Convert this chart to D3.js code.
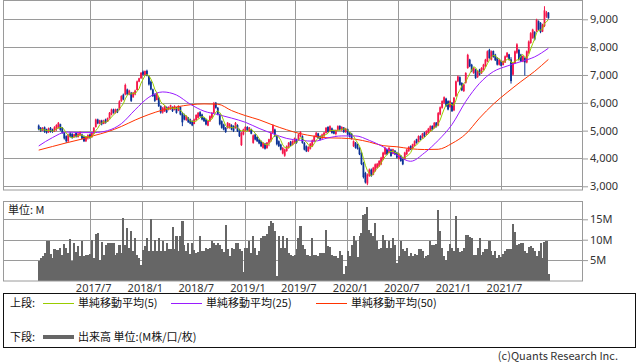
<!DOCTYPE html>
<html><head><meta charset="utf-8">
<script src="https://cdn.jsdelivr.net/npm/d3@7"></script>
<style>
body{margin:0;background:#fff}
svg{display:block}
text{font-family:"Noto Sans CJK JP","Noto Sans",sans-serif}
</style>
</head><body>
<svg id="c" width="638" height="362"></svg>
<script>
// ---- data (weekly, first week ending 2016-12-30) ----
const opens = [
5180,5100,5000,5120,5050,4940,5100,5040,4970,5050,
5100,5230,5100,4930,4800,4620,4900,4880,4760,4920,
4770,4830,4860,4790,4620,4720,4860,4760,4900,5130,
5400,5250,5360,5240,5400,5320,5450,5580,5760,5640,
5770,5760,6060,6290,6300,6480,6300,6360,6200,6300,
6460,6760,6880,7120,7000,7150,6950,6760,6480,6300,
6100,6180,5880,5650,5700,5850,5740,5770,5850,5740,
5830,5720,5850,5620,5560,5380,5460,5400,5340,5240,
5380,5460,5660,5580,5460,5400,5180,5340,5460,5640,
6000,5820,5580,5340,5220,5100,5090,5100,5200,5160,
5100,5200,5030,4480,4860,4980,5130,4980,5040,4560,
4860,4770,4680,4620,4380,4530,4370,4570,4650,4920,
5040,4800,4620,4500,4180,4100,4270,4380,4600,4480,
4560,4690,4680,4800,4800,4560,4440,4260,4350,4440,
4620,4780,4900,4800,4720,4800,4920,5130,4970,5080,
5010,4880,5010,5170,5020,5110,4950,5050,4920,4890,
4440,4570,4500,4380,4200,3830,3480,3100,3380,3600,
3420,3550,3660,3720,3790,3960,4150,4330,4200,4320,
4170,4280,4210,3990,4100,4030,3970,4150,4260,4450,
4370,4460,4690,4610,4810,4730,4930,4850,4910,4980,
5170,5090,5290,5190,5580,5820,6000,6150,6060,5850,
6000,5730,6240,6770,6920,6710,6420,6720,7250,7550,
7370,7070,7190,6920,7190,7060,7190,7310,7490,7900,
7550,7860,7730,7610,7370,7500,7360,7450,7640,7740,
7560,7010,7430,7800,7900,7730,7480,7610,7450,7800,
8150,8330,8550,8570,8930,8870,8560,8760,9100,9240];
const highs = [
5220,5130,5130,5150,5070,5110,5130,5070,5160,5230,
5310,5250,5130,4950,4830,4890,4950,4920,4890,4950,
4920,4980,4890,4830,4800,4870,4890,4950,5130,5430,
5430,5390,5390,5390,5430,5470,5670,5790,5790,5790,
5790,6090,6270,6330,6690,6510,6470,6390,6390,6470,
6800,6900,7100,7160,7160,7190,6980,6800,6510,6330,
6390,6210,5910,5850,5910,5870,5870,5930,5870,5910,
5850,5910,5870,5670,5610,5550,5490,5430,5370,5430,
5590,5670,5700,5610,5490,5430,5370,5550,5670,6030,
6030,5850,5610,5370,5250,5130,5310,5270,5230,5190,
5310,5230,5070,4950,5070,5160,5160,5130,5070,4860,
4890,4800,4710,4650,4590,4560,4590,4710,4950,5230,
5070,4830,4650,4530,4410,4350,4470,4590,4630,4650,
4750,4710,4890,4980,4830,4590,4470,4440,4560,4680,
4830,4950,4920,4830,4890,4950,5130,5160,5190,5110,
5040,5040,5190,5190,5160,5130,5100,5070,4950,4920,
4650,4590,4530,4410,4240,3880,3520,3460,3640,3640,
3700,3820,3840,3940,4060,4240,4410,4350,4410,4350,
4350,4300,4240,4200,4120,4060,4240,4350,4440,4470,
4530,4650,4710,4830,4830,4920,4950,5010,5100,5190,
5190,5310,5310,5670,5870,6090,6230,6180,6090,6090,
6030,6210,6800,6980,6950,6740,6690,7100,7760,7580,
7400,7280,7220,7160,7220,7280,7400,7580,7880,7940,
7880,7880,7760,7640,7580,7520,7520,7700,7820,7760,
7640,7460,7880,8140,7940,7760,7700,7640,7880,8240,
8540,8660,8570,9020,8960,8900,8840,9470,9300,9260];
const lows = [
5010,4950,4990,4920,4890,4920,4930,4920,4950,4990,
5070,4990,4890,4680,4560,4590,4750,4710,4750,4750,
4750,4800,4680,4590,4590,4680,4710,4750,4870,5110,
5230,5230,5190,5230,5250,5310,5430,5550,5610,5610,
5630,5730,6030,6090,6270,6270,6270,6030,6180,6270,
6450,6740,6860,6980,6980,6950,6620,6450,6210,6030,
6090,5850,5610,5610,5670,5630,5730,5750,5670,5730,
5610,5700,5550,5160,5370,5350,5280,5230,5160,5230,
5350,5430,5490,5370,5310,5190,5160,5310,5430,5610,
5790,5550,5190,5070,5010,4920,5070,5070,5010,4950,
5070,4950,4770,4450,4830,4950,4990,4950,4870,4530,
4650,4590,4510,4410,4350,4320,4350,4440,4590,4890,
4770,4470,4410,4290,4150,4060,4240,4350,4440,4470,
4530,4530,4650,4770,4530,4290,4230,4230,4320,4410,
4590,4750,4710,4650,4710,4770,4890,4920,4950,4890,
4870,4830,4990,5010,4980,4920,4920,4830,4750,4680,
4410,4350,4320,4120,3760,3280,3100,3040,3340,3340,
3400,3520,3640,3700,3760,3940,4120,4120,4180,4060,
4150,4120,4000,3960,3880,3760,3940,4120,4240,4300,
4350,4440,4530,4590,4650,4710,4770,4830,4890,4950,
5010,5070,5110,5160,5550,5790,5970,5850,5730,5820,
5670,5700,6210,6740,6620,6420,6390,6690,7220,7280,
7100,7040,6860,6900,6980,7040,7160,7280,7460,7580,
7520,7620,7500,7340,7340,7310,7340,7430,7620,7520,
6690,6980,7400,7760,7520,7460,7460,6980,7420,7760,
8120,8300,8240,8540,8600,8500,8540,8720,9050,9020];
const closes = [
5050,4990,5100,4960,4920,5080,4960,4950,5120,5200,
5280,5030,4920,4720,4620,4850,4780,4740,4870,4780,
4890,4950,4710,4620,4760,4840,4740,4920,5100,5400,
5260,5370,5230,5360,5280,5450,5640,5760,5640,5770,
5660,6050,6240,6120,6640,6300,6440,6070,6360,6440,
6770,6880,7080,7010,7140,6980,6660,6480,6240,6070,
6350,5880,5650,5820,5880,5660,5850,5910,5700,5890,
5640,5890,5580,5300,5400,5520,5300,5250,5190,5400,
5560,5640,5520,5400,5340,5220,5350,5520,5640,5990,
5820,5580,5230,5100,5040,4950,5280,5250,5040,4990,
5280,4980,4800,4920,5040,5130,5010,5110,4890,4830,
4680,4620,4540,4440,4560,4350,4570,4690,4920,5190,
4800,4510,4440,4320,4380,4320,4440,4560,4470,4630,
4720,4560,4860,4950,4560,4320,4260,4410,4530,4650,
4800,4920,4740,4680,4860,4930,5100,4950,5160,4920,
4890,5010,5160,5040,5130,4950,5070,4860,4780,4710,
4620,4380,4350,4150,3800,3330,3140,3420,3600,3370,
3670,3790,3810,3910,4030,4210,4380,4150,4380,4090,
4330,4150,4030,4170,3910,3790,4210,4320,4410,4320,
4510,4620,4560,4800,4680,4890,4800,4990,5070,5160,
5040,5280,5130,5630,5840,6060,6200,5880,5760,6060,
5700,6180,6770,6950,6650,6450,6660,7070,7720,7310,
7130,7250,6890,7130,7010,7250,7370,7550,7850,7610,
7850,7650,7530,7370,7550,7330,7500,7670,7800,7550,
6780,7430,7850,8100,7560,7490,7680,7450,7850,8200,
8500,8630,8270,8980,8630,8540,8800,9320,9250,9040];
// volume, millions
const volumes = [
4.7,5.5,5.9,6.7,9.6,9.6,6.5,5.5,7.6,7.5,
7.4,8.0,6.3,8.9,8.0,6.7,10.2,4.7,9.2,7.1,
8.4,5.9,9.6,5.9,6.3,6.3,6.5,10.0,5.5,11.4,
11.6,5.1,9.4,6.3,8.8,9.2,9.2,9.2,9.2,6.3,
6.7,8.8,6.7,15.3,8.8,12.8,8.0,12.2,7.2,10.4,
6.3,5.5,3.7,7.5,8.4,10.4,7.2,15.0,7.3,10.0,
7.3,10.4,7.3,9.6,7.3,9.2,7.6,7.6,13.1,7.6,
10.8,7.2,10.8,14.5,8.8,7.2,9.2,6.5,9.2,7.5,
6.7,7.0,10.8,7.2,7.2,8.0,7.6,8.0,9.6,9.2,
8.8,9.2,8.6,7.6,7.0,13.7,7.6,5.9,8.0,7.6,
9.2,9.2,7.6,7.2,2.1,8.0,8.0,9.6,6.8,10.8,
8.0,6.3,7.2,10.4,10.8,10.8,11.4,13.3,14.5,14.0,
12.2,1.0,11.0,8.0,10.8,8.0,10.4,6.7,6.3,5.9,
6.3,7.6,10.4,13.3,8.8,7.6,6.3,6.3,5.9,10.4,
6.3,6.3,5.9,6.7,6.7,6.7,12.4,8.5,8.1,6.2,
5.9,5.9,5.5,7.2,6.3,1.5,3.5,7.3,5.9,8.8,
10.8,9.6,5.7,10.8,11.6,16.1,16.3,18.1,12.4,11.6,
10.8,14.1,9.6,7.6,8.0,11.2,10.0,8.0,9.6,8.0,
10.4,8.8,4.3,5.9,9.6,7.6,7.2,8.0,5.9,6.7,
5.9,6.6,6.3,7.6,7.6,7.2,5.5,5.9,6.3,9.6,
8.8,8.8,8.9,17.3,12.2,8.0,5.9,5.1,7.3,8.9,
8.0,7.3,15.7,8.0,7.0,7.3,8.0,11.1,11.1,10.7,
10.4,6.3,6.3,8.0,10.4,6.3,7.0,7.8,7.8,9.6,
7.2,6.3,7.3,5.5,6.3,5.7,6.5,7.3,7.6,7.6,
7.6,13.9,11.9,8.8,8.9,9.2,9.2,7.2,6.7,8.1,
8.4,8.0,7.2,5.9,7.2,9.2,5.5,9.4,9.8,1.5];
// moving averages every 7th week (week 0, 7, ..., 259)
const ma25 = [4450,4750,4950,4930,4930,5000,5250,5750,6200,6390,6280,5950,5700,5580,5450,5300,5080,4890,4720,4650,4620,4740,4810,4810,4650,4420,4120,3900,4200,4650,5220,6050,6700,7120,7320,7480,7650,7960];
const ma50 = [4300,4430,4560,4680,4820,4960,5150,5380,5580,5740,5850,5930,5960,5950,5720,5540,5390,5200,5030,4890,4800,4740,4730,4690,4590,4460,4420,4350,4320,4330,4540,4880,5450,5950,6370,6760,7130,7560];
const priceTicks = [3000,4000,5000,6000,7000,8000,9000];
const volTicks = [5,10,15];
const xTickLabels = ["2017/7","2018/1","2018/7","2019/1","2019/7","2020/1","2020/7","2021/1","2021/7"];
const legendUpper = ["単純移動平均(5)","単純移動平均(25)","単純移動平均(50)"];

// ---- setup ----
const firstWeek = new Date(2016, 11, 30);
const dates = closes.map((_, i) => d3.timeDay.offset(firstWeek, 7 * i));
const maIdx = ma25.map((_, i) => Math.min(i * 7, closes.length - 1));
const xTickDates = xTickLabels.map(s => { const [yy, mm] = s.split("/").map(Number); return new Date(yy, mm - 1, 1); });
const ma5 = closes.map((c, i) => d3.mean(closes.slice(Math.max(0, i - 4), i + 1)));

const svg = d3.select("#c");
const L = 3, R = 583, T1 = 0, B1 = 190, T2 = 201, B2 = 280.5;
const x = d3.scaleTime().domain([new Date(2016, 7, 25), new Date(2022, 3, 19)]).range([L, R]);
const y = d3.scaleLinear().domain([3000, 9000]).range([186.3, 19.3]);
const v = d3.scaleLinear().domain([0, 15]).range([B2, 219.3]);
const grid = "#9a9a9a";
const upColor = "#f5164a", downColor = "#0b3296";

svg.append("defs").append("clipPath").attr("id", "clip1")
  .append("rect").attr("x", L).attr("y", T1).attr("width", R - L).attr("height", B1 - T1);

// grids upper
const g1 = svg.append("g");
g1.selectAll(".hg").data(priceTicks).join("line")
  .attr("x1", L).attr("x2", R).attr("y1", d => Math.round(y(d)) + 0.5).attr("y2", d => Math.round(y(d)) + 0.5)
  .attr("stroke", grid);
g1.selectAll(".vg").data(xTickDates).join("line")
  .attr("x1", d => Math.round(x(d)) + 0.5).attr("x2", d => Math.round(x(d)) + 0.5)
  .attr("y1", T1).attr("y2", B1).attr("stroke", grid);

// grids lower
const g2 = svg.append("g");
g2.selectAll(".hg").data(volTicks).join("line")
  .attr("x1", L).attr("x2", R).attr("y1", d => Math.round(v(d)) + 0.5).attr("y2", d => Math.round(v(d)) + 0.5)
  .attr("stroke", grid);
g2.selectAll(".vg").data(xTickDates).join("line")
  .attr("x1", d => Math.round(x(d)) + 0.5).attr("x2", d => Math.round(x(d)) + 0.5)
  .attr("y1", T2).attr("y2", B2).attr("stroke", grid);

// candles
const cg = svg.append("g").attr("clip-path", "url(#clip1)");
const idx = d3.range(closes.length);
cg.selectAll(".wick").data(idx).join("line")
  .attr("x1", i => x(dates[i])).attr("x2", i => x(dates[i]))
  .attr("y1", i => y(highs[i])).attr("y2", i => y(lows[i]))
  .attr("stroke", i => closes[i] >= opens[i] ? upColor : downColor).attr("stroke-width", 1);
cg.selectAll(".body").data(idx).join("rect")
  .attr("x", i => x(dates[i]) - 0.9).attr("width", 1.8)
  .attr("y", i => y(Math.max(opens[i], closes[i])))
  .attr("height", i => Math.max(1, Math.abs(y(opens[i]) - y(closes[i]))))
  .attr("fill", i => closes[i] >= opens[i] ? upColor : downColor);

// moving averages
const lineRaw = d3.line().x(d => x(d[0])).y(d => y(d[1]));
const lineSmooth = d3.line().x(d => x(d[0])).y(d => y(d[1])).curve(d3.curveMonotoneX);
cg.append("path").datum(maIdx.map((k, i) => [dates[k], ma50[i]])).attr("d", lineSmooth)
  .attr("fill", "none").attr("stroke", "#ff3300").attr("stroke-width", 1);
cg.append("path").datum(maIdx.map((k, i) => [dates[k], ma25[i]])).attr("d", lineSmooth)
  .attr("fill", "none").attr("stroke", "#9a1cff").attr("stroke-width", 1);
cg.append("path").datum(idx.map(i => [dates[i], ma5[i]])).attr("d", lineRaw)
  .attr("fill", "none").attr("stroke", "#99cc00").attr("stroke-width", 1);

// volume bars
const bw = x(dates[1]) - x(dates[0]);
svg.append("g").selectAll("rect").data(idx).join("rect")
  .attr("x", i => x(dates[i]) - bw / 2).attr("width", bw + 0.15)
  .attr("y", i => v(volumes[i])).attr("height", i => B2 - v(volumes[i]))
  .attr("fill", "#666").attr("shape-rendering", "crispEdges");

// frames
svg.append("rect").attr("x", L + 0.5).attr("y", T1 + 0.5).attr("width", R - L - 1).attr("height", B1 - T1 - 0.5)
  .attr("fill", "none").attr("stroke", grid);
svg.append("rect").attr("x", L + 0.5).attr("y", T2 + 0.5).attr("width", R - L - 1).attr("height", B2 - T2)
  .attr("fill", "none").attr("stroke", grid);

// axes
const ya = svg.append("g").attr("transform", `translate(${R},0)`)
  .call(d3.axisRight(y).tickValues(priceTicks).tickFormat(d3.format(",")).tickSize(5).tickPadding(2));
const va = svg.append("g").attr("transform", `translate(${R},0)`)
  .call(d3.axisRight(v).tickValues(volTicks).tickFormat(d => d + "M").tickSize(5).tickPadding(2));
const xa = svg.append("g").attr("transform", `translate(0,${B2})`)
  .call(d3.axisBottom(x).tickValues(xTickDates).tickFormat((d, i) => xTickLabels[i]).tickSize(0).tickPadding(4));
[ya, va, xa].forEach(a => {
  a.select(".domain").remove();
  a.selectAll(".tick line").attr("stroke", grid);
  a.selectAll(".tick text").attr("fill", "#333").style("font-size", "11px")
    .style("font-family", '"Noto Sans","DejaVu Sans",sans-serif');
});
xa.selectAll(".tick text").attr("dx", 3);

svg.append("text").attr("x", 8).attr("y", 214).attr("fill", "#222").style("font-size", "11px").text("単位: M");

// legend
svg.append("rect").attr("x", 3.5).attr("y", 293.5).attr("width", 632).attr("height", 54)
  .attr("fill", "none").attr("stroke", "#111");
const lg = svg.append("g").style("font-size", "11px").attr("fill", "#111");
lg.append("text").attr("x", 10).attr("y", 307).text("上段:");
const legColors = ["#99cc00", "#9a1cff", "#ff3300"];
const legX = [43, 171, 316];
legendUpper.forEach((t, i) => {
  lg.append("line").attr("x1", legX[i]).attr("x2", legX[i] + 31).attr("y1", 303.5).attr("y2", 303.5)
    .attr("stroke", legColors[i]).attr("stroke-width", 1);
  lg.append("text").attr("x", legX[i] + 35).attr("y", 307).text(t);
});
lg.append("text").attr("x", 10).attr("y", 341).text("下段:");
lg.append("line").attr("x1", 43).attr("x2", 74).attr("y1", 337).attr("y2", 337)
  .attr("stroke", "#666").attr("stroke-width", 4);
lg.append("text").attr("x", 78).attr("y", 341).text("出来高 単位:(M株/口/枚)");

svg.append("text").attr("x", 618).attr("y", 360).attr("text-anchor", "end").attr("fill", "#333")
  .style("font-size", "11px").text("(c)Quants Research Inc.");
</script>
</body></html>
